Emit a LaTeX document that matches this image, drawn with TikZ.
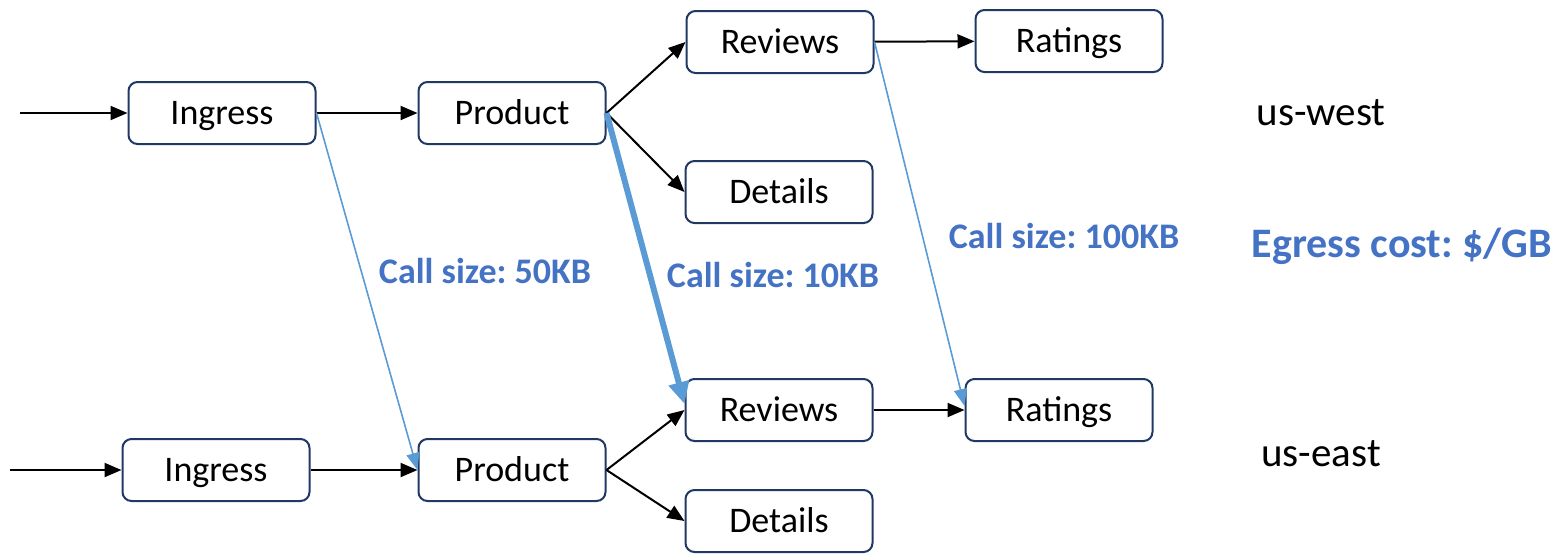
\documentclass[tikz,border=0pt]{standalone}
\usepackage{fontspec}
\setmainfont{Carlito}
\frenchspacing
\usetikzlibrary{arrows.meta}
\definecolor{boxline}{HTML}{1F3864}
\definecolor{callblue}{HTML}{5B9BD5}
\definecolor{labelblue}{HTML}{4472C4}
\begin{document}
\begin{tikzpicture}[x=0.5pt,y=-0.5pt,
  svc/.style={draw=boxline,line width=1pt,rounded corners=4.5pt,fill=white,
    minimum width=93.5pt,minimum height=31pt,inner sep=0pt,
    text height=11.6pt,text depth=0pt,
    font=\fontsize{18}{20}\selectfont},
  flow/.style={draw=black,line width=1pt,-{Triangle[length=8.5pt,width=7pt]}},
  xcall/.style={draw=callblue,line width=0.8pt,-{Triangle[length=8.5pt,width=6.5pt]}},
  xcallbig/.style={draw=callblue,line width=3pt,-{Triangle[length=11pt,width=10pt]}},
  sizelbl/.style={text=labelblue,text height=11.6pt,text depth=0pt,
    font=\bfseries\fontsize{18}{20}\selectfont},
  region/.style={text height=13.2pt,text depth=0pt,font=\fontsize{20.5}{22}\selectfont}]
\useasboundingbox (0,0) rectangle (1567,553);

% us-west services
\node[svc] (i1) at (222,113) {Ingress};
\node[svc] (p1) at (512,113) {Product};
\node[svc] (r1) at (780,42) {Reviews};
\node[svc] (t1) at (1069,41) {Ratings};
\node[svc] (d1) at (779,192) {Details};

% us-east services
\node[svc] (i2) at (216,470) {Ingress};
\node[svc] (p2) at (512,470) {Product};
\node[svc] (r2) at (779,410) {Reviews};
\node[svc] (t2) at (1059,410) {Ratings};
\node[svc] (d2) at (779,521) {Details};

% entry points
\coordinate (e1) at (20,113);
\coordinate (e2) at (10,470);

% local calls
\draw[flow] (e1) -- (i1.west);
\draw[flow] (i1) -- (p1);
\draw[flow] (p1.east) -- (r1.west);
\draw[flow] (p1.east) -- (d1.west);
\draw[flow] (r1) -- (t1);

\draw[flow] (e2) -- (i2.west);
\draw[flow] (i2) -- (p2);
\draw[flow] (p2.east) -- (r2.west);
\draw[flow] (p2.east) -- (d2.west);
\draw[flow] (r2) -- (t2);

% cross-region calls
\draw[xcall] (i1.east) -- (p2.west);
\draw[xcallbig] (p1.east) -- ([yshift=3pt]r2.west);
\draw[xcall] (r1.east) -- ([yshift=2pt]t2.west);

% labels
\node[sizelbl] (l50) at (485,272) {Call size: 50KB};
\node[sizelbl] (l10) at (773,276) {Call size: 10KB};
\node[sizelbl] (l100) at (1064,237) {Call size: 100KB};
\node[text=labelblue,text height=13.5pt,text depth=0pt,
  font=\bfseries\fontsize{21}{23}\selectfont] (egr) at (1402,244) {Egress cost: \$/GB};
\node[region] (west) at (1321,112) {us-west};
\node[region] (east) at (1321,453) {us-east};
\end{tikzpicture}
\end{document}
